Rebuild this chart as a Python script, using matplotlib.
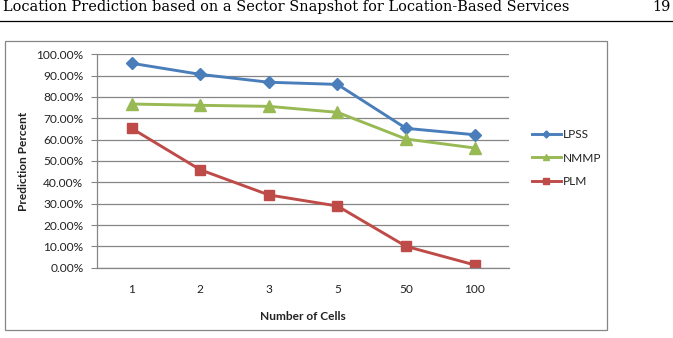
import matplotlib.pyplot as plt
from matplotlib.patches import Rectangle
from matplotlib.lines import Line2D

cells = ['1', '2', '3', '5', '50', '100']
lpss = [95.8, 90.6, 86.9, 85.9, 65.3, 62.3]
nmmp = [76.7, 76.1, 75.6, 72.8, 60.3, 56.1]
plm = [65.3, 45.9, 34.1, 28.9, 10.0, 1.3]
yticks = [0, 10, 20, 30, 40, 50, 60, 70, 80, 90, 100]

W, H = 673, 338
fig = plt.figure(figsize=(W / 100, H / 100), dpi=100)
font = ['Lato', 'DejaVu Sans']
fs = 8.6
tc = '#222222'

# page header, sized so the title spans the same width as in the page
title = fig.text(3 / W, 1 - 11 / H, 'Location Prediction based on a Sector Snapshot for Location-Based Services',
                 family=['DejaVu Serif'], fontsize=10, va='baseline', ha='left')
r = fig.canvas.get_renderer()
w = title.get_window_extent(r).width
hfs = 10 * 567 / w
title.set_fontsize(hfs)
fig.text(671 / W, 1 - 11 / H, '19', family=['DejaVu Serif'], fontsize=hfs, va='baseline', ha='right')
fig.add_artist(Line2D([0, 1], [1 - 20.7 / H, 1 - 20.7 / H], color='black', lw=0.9, transform=fig.transFigure))

# chart frame
fig.add_artist(Rectangle((5 / W, 1 - 330 / H), 602 / W, 289 / H, transform=fig.transFigure,
                         fill=False, edgecolor='#868686', lw=0.9))

ax = fig.add_axes([97.3 / W, 1 - 267.7 / H, 411.7 / W, 213.4 / H])
x = range(len(cells))
ax.plot(x, lpss, color='#4A7EBB', lw=2.1, marker='D', ms=6, label='LPSS')
ax.plot(x, nmmp, color='#98B954', lw=2.1, marker='^', ms=8, label='NMMP')
ax.plot(x, plm, color='#BE4B48', lw=2.1, marker='s', ms=7, label='PLM')

ax.set_xlim(-0.5, len(cells) - 0.5)
ax.set_ylim(0, 100)
ax.set_yticks(yticks)
ax.set_yticklabels(['{:.2f}%'.format(v) for v in yticks], family=font, fontsize=fs, color=tc)
ax.set_xticks(list(x))
ax.set_xticklabels(cells, family=font, fontsize=fs, color=tc)
ax.tick_params(axis='x', length=0, pad=12)
ax.tick_params(axis='y', length=4, color='#868686', pad=6)
ax.grid(axis='y', color='#868686', lw=0.9)
ax.set_axisbelow(True)
for s in ['top', 'right']:
    ax.spines[s].set_visible(False)
for s in ['left', 'bottom']:
    ax.spines[s].set_color('#868686')
    ax.spines[s].set_linewidth(0.9)

ax.set_xlabel('Number of Cells', family=font, fontsize=fs, fontweight='bold', labelpad=11, color=tc)
ax.set_ylabel('Prediction Percent', family=font, fontsize=fs, fontweight='bold', labelpad=5, color=tc)

fig.legend(loc='upper left', bbox_to_anchor=(526 / W, 1 - 123 / H), frameon=False,
           prop={'family': font, 'size': fs}, handlelength=2.4, handletextpad=0.15,
           labelspacing=1.05, markerscale=0.6, borderpad=0, labelcolor=tc)

fig.savefig('out.png', dpi=100)
